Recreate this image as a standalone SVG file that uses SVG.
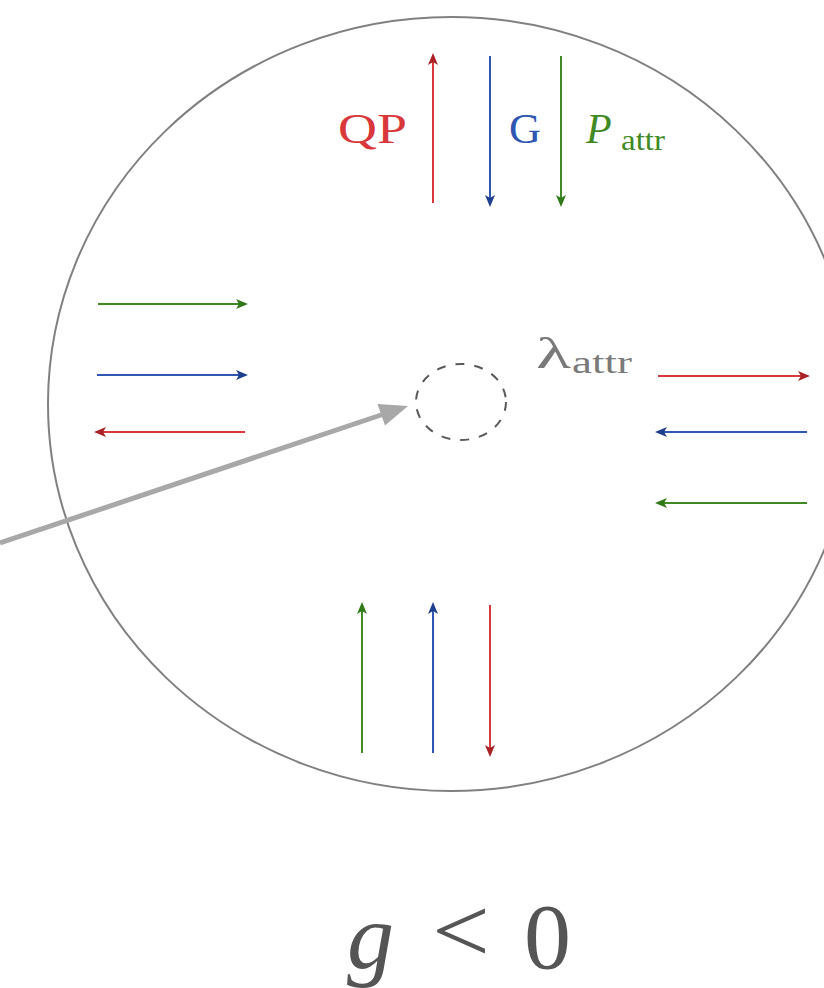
<svg xmlns="http://www.w3.org/2000/svg" width="824" height="988" viewBox="0 0 824 988">
<style>
.ln{stroke-width:2;fill:none}
.r{stroke:#d8383a}
.b{stroke:#2f56b0}
.g{stroke:#3f8a24}
.serif{font-family:"Liberation Serif","DejaVu Serif",serif}
</style>
<defs>
<marker id="mr" markerUnits="userSpaceOnUse" markerWidth="14" markerHeight="12" refX="3" refY="6" orient="auto" viewBox="0 0 14 12"><path d="M0,1 L12,6 L0,11 L3,6 Z" fill="#a82226"/></marker>
<marker id="mb" markerUnits="userSpaceOnUse" markerWidth="14" markerHeight="12" refX="3" refY="6" orient="auto" viewBox="0 0 14 12"><path d="M0,1 L12,6 L0,11 L3,6 Z" fill="#1f3f8f"/></marker>
<marker id="mg" markerUnits="userSpaceOnUse" markerWidth="14" markerHeight="12" refX="3" refY="6" orient="auto" viewBox="0 0 14 12"><path d="M0,1 L12,6 L0,11 L3,6 Z" fill="#2f7a16"/></marker>
</defs>
<rect width="824" height="988" fill="#ffffff"/>
<g id="boundary">
<ellipse cx="451" cy="404" rx="403" ry="387" fill="none" stroke="#808080" stroke-width="2"/>
</g>
<g id="core">
<ellipse cx="461" cy="402" rx="45" ry="38" fill="none" stroke="#5a5a5a" stroke-width="2" stroke-dasharray="9,10"/>
</g>
<g id="label-lambda" class="serif" fill="#7a7a7a">
<text x="536" y="368" font-size="44" textLength="35" lengthAdjust="spacingAndGlyphs">λ</text>
<text x="572" y="373" font-size="32" textLength="60" lengthAdjust="spacingAndGlyphs">attr</text>
</g>
<g id="labels-top" class="serif">
<text x="338" y="143" font-size="42" fill="#d8383a" textLength="69" lengthAdjust="spacingAndGlyphs">QP</text>
<text x="509" y="143" font-size="42" fill="#2f56b0" textLength="32" lengthAdjust="spacingAndGlyphs">G</text>
<text x="586" y="143" font-size="42" font-style="italic" fill="#3f8a24">P</text>
<text x="621" y="150" font-size="29" fill="#3f8a24" textLength="44" lengthAdjust="spacingAndGlyphs">attr</text>
</g>
<g id="label-g" class="serif" fill="#555555">
<text x="347" y="968" font-size="94" font-style="italic">g</text>
<text x="432" y="962" font-size="94" textLength="58" lengthAdjust="spacingAndGlyphs">&lt;</text>
<text x="524" y="968" font-size="94">0</text>
</g>
<g id="connectors">
<!-- top -->
<line class="ln r" x1="433" y1="203" x2="433" y2="62" marker-end="url(#mr)"/>
<line class="ln b" x1="490" y1="56" x2="490" y2="198" marker-end="url(#mb)"/>
<line class="ln g" x1="561" y1="56" x2="561" y2="198" marker-end="url(#mg)"/>
<!-- left -->
<line class="ln g" x1="98" y1="304" x2="239" y2="304" marker-end="url(#mg)"/>
<line class="ln b" x1="97" y1="375" x2="239" y2="375" marker-end="url(#mb)"/>
<line class="ln r" x1="245" y1="432" x2="103" y2="432" marker-end="url(#mr)"/>
<!-- right -->
<line class="ln r" x1="658" y1="376" x2="801" y2="376" marker-end="url(#mr)"/>
<line class="ln b" x1="807" y1="432" x2="664" y2="432" marker-end="url(#mb)"/>
<line class="ln g" x1="807" y1="503" x2="664" y2="503" marker-end="url(#mg)"/>
<!-- bottom -->
<line class="ln g" x1="362" y1="753" x2="362" y2="611" marker-end="url(#mg)"/>
<line class="ln b" x1="433" y1="753" x2="433" y2="611" marker-end="url(#mb)"/>
<line class="ln r" x1="490" y1="605" x2="490" y2="748" marker-end="url(#mr)"/>
<!-- pointer -->
<line x1="0" y1="543" x2="384" y2="414" stroke="#a8a8a8" stroke-width="5"/>
<polygon points="408,406 385,425.5 377.5,404" fill="#a8a8a8"/>
</g>
</svg>
